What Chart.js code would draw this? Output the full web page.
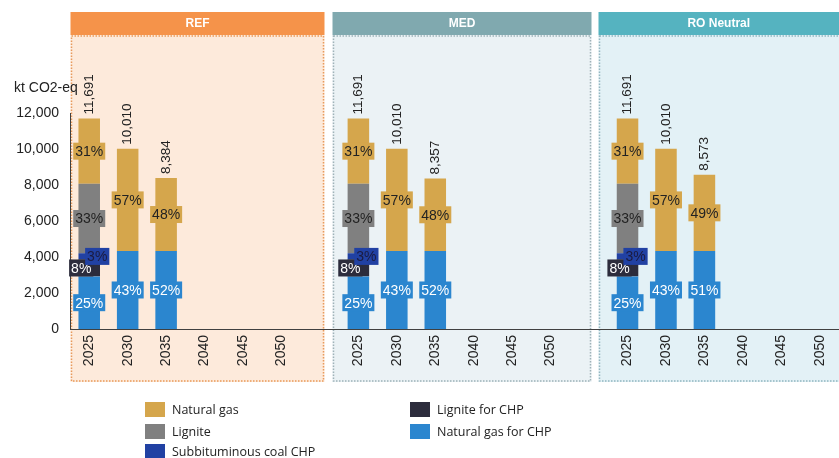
<!DOCTYPE html>
<html>
<head>
<meta charset="utf-8">
<script src="https://cdn.jsdelivr.net/npm/chart.js@4/dist/chart.umd.min.js"></script>
<style>
  html, body { margin: 0; padding: 0; background: #ffffff; }
  #wrap { position: relative; width: 839px; height: 458px; overflow: hidden; }
  #chart { position: absolute; left: 0; top: 0; }
  .legend { position: absolute; font-family: "Open Sans", "Noto Sans", sans-serif; font-size: 12.5px; color: #222; }
  .legend .item { position: absolute; white-space: nowrap; display: flex; align-items: center; }
  .legend .sw { width: 20px; height: 15px; margin-right: 7px; }
</style>
</head>
<body>
<div id="wrap">
  <canvas id="chart" width="839" height="458"></canvas>
  <div class="legend" id="legend"></div>
</div>
<script>
// Scenarios and years shown in each panel
const scenarios = ['REF', 'MED', 'RO Neutral'];
const years = ['2025', '2030', '2035', '2040', '2045', '2050'];

// Emissions by source, kt CO2-eq: REF years, then MED years, then RO Neutral years
const naturalGasForChp = [2923, 4335, 4335, null, null, null,
                          2923, 4335, 4335, null, null, null,
                          2923, 4335, 4335, null, null, null];
const ligniteForChp    = [935, null, null, null, null, null,
                          935, null, null, null, null, null,
                          935, null, null, null, null, null];
const subbituminousChp = [351, null, null, null, null, null,
                          351, null, null, null, null, null,
                          351, null, null, null, null, null];
const lignite          = [3858, null, null, null, null, null,
                          3858, null, null, null, null, null,
                          3858, null, null, null, null, null];
const naturalGas       = [3624, 5675, 4049, null, null, null,
                          3624, 5675, 4022, null, null, null,
                          3624, 5675, 4238, null, null, null];

// Y axis ticks
const yTicks = [0, 2000, 4000, 6000, 8000, 10000, 12000];

// One blank slot separates the scenario groups on the category axis
function spread(values) {
  const out = [];
  scenarios.forEach((s, si) => {
    for (let i = 0; i < years.length; i++) out.push(values[si * years.length + i]);
    if (si < scenarios.length - 1) out.push(null);
  });
  return out;
}
const labels = [];
scenarios.forEach((s, si) => {
  years.forEach(y => labels.push(y));
  if (si < scenarios.length - 1) labels.push('');
});

const seriesDefs = [
  { label: 'Natural gas for CHP', data: naturalGasForChp, color: '#2b86cf', text: '#ffffff', dx: 0 },
  { label: 'Lignite for CHP', data: ligniteForChp, color: '#2c2c3c', text: '#ffffff', dx: -8 },
  { label: 'Subbituminous coal CHP', data: subbituminousChp, color: '#2141a3', text: '#1b1b40', dx: 8 },
  { label: 'Lignite', data: lignite, color: '#808080', text: '#222222', dx: 0 },
  { label: 'Natural gas', data: naturalGas, color: '#d5a64c', text: '#222222', dx: 0 }
];

const datasets = seriesDefs.map(s => ({
  label: s.label,
  data: spread(s.data),
  backgroundColor: s.color,
  borderWidth: 0,
  categoryPercentage: 1.0,
  barPercentage: 0.56,
  textColor: s.text,
  labelShift: s.dx
}));

// Scenario panels: background, dotted border and coloured header (edges in category units)
const panelStyle = [
  { fill: '#fdeadb', border: '#e89a5c', head: '#f5934a', from: -0.5, to: 6.1 },
  { fill: '#ebf2f5', border: '#9fb2b8', head: '#80a9af', from: 6.31, to: 13.05 },
  { fill: '#e3f1f6', border: '#93b6c0', head: '#55b3c0', from: 13.23, to: 20.0 }
];

const panelsPlugin = {
  id: 'panels',
  beforeDraw(chart) {
    const { ctx, scales: { x } } = chart;
    const step = x.getPixelForValue(1) - x.getPixelForValue(0);
    const px = v => x.getPixelForValue(0) + v * step;
    panelStyle.forEach((p, i) => {
      const l = Math.round(px(p.from)) + 0.5;
      const r = Math.min(Math.round(px(p.to)), 845) + 0.5;
      ctx.save();
      ctx.fillStyle = p.fill;
      ctx.fillRect(l, 35, r - l, 347);
      ctx.setLineDash([1.5, 1.5]);
      ctx.lineWidth = 1.5;
      ctx.strokeStyle = p.border;
      ctx.strokeRect(l + 1, 36, r - l - 2, 345);
      ctx.setLineDash([]);
      ctx.fillStyle = p.head;
      ctx.fillRect(l, 12, r - l, 23);
      ctx.fillStyle = '#ffffff';
      ctx.font = 'bold 12px "Liberation Sans", Arial, sans-serif';
      ctx.textAlign = 'center';
      ctx.textBaseline = 'middle';
      ctx.fillText(scenarios[i], (l + Math.min(r, 839)) / 2, 24);
      ctx.restore();
    });
    ctx.save();
    ctx.fillStyle = '#222';
    ctx.font = '14px "Liberation Sans", Arial, sans-serif';
    ctx.textBaseline = 'middle';
    ctx.fillText('kt CO2-eq', 14, 88);
    ctx.restore();
  }
};

const fmt = v => v.toLocaleString('en-US');

const labelsPlugin = {
  id: 'barLabels',
  afterDatasetsDraw(chart) {
    const { ctx } = chart;
    const n = chart.data.labels.length;
    ctx.save();
    ctx.font = '14px "Liberation Sans", Arial, sans-serif';
    for (let i = 0; i < n; i++) {
      let total = 0;
      chart.data.datasets.forEach(ds => { total += ds.data[i] || 0; });
      if (!total) continue;
      chart.data.datasets.forEach((ds, di) => {
        const v = ds.data[i];
        if (!v) return;
        const bar = chart.getDatasetMeta(di).data[i];
        const pct = Math.round(v / total * 100) + '%';
        const w = ctx.measureText(pct).width + 4;
        const h = 17;
        const cx = bar.x + ds.labelShift;
        const cy = (bar.y + bar.base) / 2;
        ctx.fillStyle = ds.backgroundColor;
        ctx.fillRect(cx - w / 2, cy - h / 2, w, h);
        ctx.fillStyle = ds.textColor;
        ctx.textAlign = 'center';
        ctx.textBaseline = 'middle';
        ctx.fillText(pct, cx, cy + 1);
      });
      // total above the stack, rotated
      const metaTop = chart.getDatasetMeta(chart.data.datasets.length - 1).data[i];
      ctx.save();
      ctx.translate(metaTop.x, metaTop.y - 4);
      ctx.rotate(-Math.PI / 2);
      ctx.fillStyle = '#222';
      ctx.textAlign = 'left';
      ctx.textBaseline = 'middle';
      ctx.font = '13.5px "Liberation Sans", Arial, sans-serif';
      ctx.fillText(fmt(total), 0, 0);
      ctx.restore();
    }
    ctx.restore();
  }
};

new Chart(document.getElementById('chart'), {
  type: 'bar',
  data: { labels, datasets },
  options: {
    responsive: false,
    animation: false,
    layout: { padding: { top: 113, right: 0, left: 0, bottom: 0 } },
    plugins: { legend: { display: false }, tooltip: { enabled: false } },
    scales: {
      x: {
        stacked: true,
        grid: { display: false, drawTicks: false },
        border: { color: '#404040', width: 1 },
        ticks: {
          autoSkip: false, minRotation: 90, maxRotation: 90, padding: 6,
          color: '#222', font: { family: '"Liberation Sans", Arial, sans-serif', size: 14 }
        },
        afterFit(scale) { scale.height = 129; scale.paddingRight = 0; scale.paddingLeft = 0; }
      },
      y: {
        stacked: true,
        min: 0, max: 12000,
        afterBuildTicks(scale) { scale.ticks = yTicks.map(v => ({ value: v })); },
        grid: { display: false, drawTicks: true, tickLength: 5, tickColor: '#404040' },
        border: { color: '#404040', width: 1 },
        ticks: {
          color: '#222', padding: 6,
          font: { family: '"Liberation Sans", Arial, sans-serif', size: 14 },
          callback: v => fmt(v)
        },
        afterFit(scale) { scale.width = 70; }
      }
    }
  },
  plugins: [panelsPlugin, labelsPlugin]
});

// Legend in two columns
const legendOrder = [
  { name: 'Natural gas', x: 145, y: 401 },
  { name: 'Lignite', x: 145, y: 423 },
  { name: 'Subbituminous coal CHP', x: 145, y: 443 },
  { name: 'Lignite for CHP', x: 410, y: 401 },
  { name: 'Natural gas for CHP', x: 410, y: 423 }
];
const legendEl = document.getElementById('legend');
legendOrder.forEach(it => {
  const s = seriesDefs.find(d => d.label === it.name);
  const div = document.createElement('div');
  div.className = 'item';
  div.style.left = it.x + 'px';
  div.style.top = it.y + 'px';
  div.innerHTML = '<span class="sw" style="background:' + s.color + '"></span><span>' + it.name + '</span>';
  legendEl.appendChild(div);
});
</script>
</body>
</html>
